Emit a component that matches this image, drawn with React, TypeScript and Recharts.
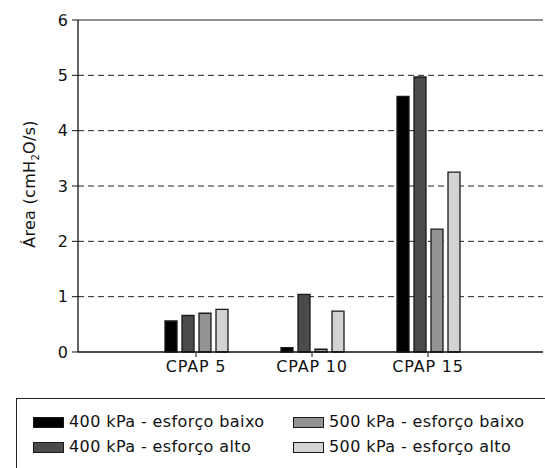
import React from "react";
import { BarChart, Bar, XAxis, YAxis, CartesianGrid, ReferenceLine } from "recharts";

const categories = ["CPAP 5", "CPAP 10", "CPAP 15"];
const seriesNames = [
  "400 kPa - esforço baixo",
  "400 kPa - esforço alto",
  "500 kPa - esforço baixo",
  "500 kPa - esforço alto",
];
const s400Baixo = [0.56, 0.08, 4.62];
const s400Alto = [0.66, 1.04, 4.97];
const s500Baixo = [0.7, 0.05, 2.22];
const s500Alto = [0.77, 0.74, 3.25];
const yTicks = [0, 1, 2, 3, 4, 5, 6];
const fills = ["#000000", "#4b4b4b", "#939393", "#d3d3d3"];

const keys = ["a", "b", "c", "d"];
const data = categories.map((c, i) => ({
  name: c,
  a: s400Baixo[i],
  b: s400Alto[i],
  c: s500Baixo[i],
  d: s500Alto[i],
}));

const FONT = "'DejaVu Sans', sans-serif";

const YLabel = (props: any) => {
  const vb = props.viewBox || {};
  const cx = 35;
  const cy = vb.y + vb.height / 2 - 2;
  return (
    <text
      x={cx}
      y={cy}
      transform={`rotate(-90, ${cx}, ${cy})`}
      textAnchor="middle"
      fontFamily={FONT}
      fontSize={16}
      letterSpacing={0.3}
      fill="#111"
    >
      Área (cmH
      <tspan fontSize={10} dy={4}>2</tspan>
      <tspan dy={-4}>O/s)</tspan>
    </text>
  );
};

export default function App() {
  return (
    <div style={{ position: "fixed", left: 0, top: 0, width: 545, height: 468, background: "#fff", overflow: "hidden" }}>
      <BarChart
        width={545}
        height={468}
        data={data}
        margin={{ top: 20, right: 2, bottom: 86, left: 0 }}
        barSize={12}
        barGap={5}
      >
        <CartesianGrid
          vertical={false}
          horizontalValues={[1, 2, 3, 4, 5]}
          stroke="#222"
          strokeDasharray="6 4"
        />
        <ReferenceLine y={6} stroke="#222" strokeWidth={1.2} />
        <XAxis
          dataKey="name"
          padding={{ left: 60, right: 57 }}
          tickSize={5}
          tickMargin={4}
          height={30}
          stroke="#111"
          tick={{ fill: "#111", fontSize: 16, fontFamily: FONT, letterSpacing: 0.8 }}
          axisLine={{ stroke: "#111", strokeWidth: 1.3 }}
          tickLine={{ stroke: "#111" }}
        />
        <YAxis
          domain={[0, 6]}
          ticks={yTicks}
          width={78}
          tickSize={6}
          tickMargin={4}
          stroke="#111"
          tick={{ fill: "#111", fontSize: 16, fontFamily: FONT }}
          axisLine={{ stroke: "#111", strokeWidth: 1.3 }}
          label={<YLabel />}
        />
        {keys.map((k, i) => (
          <Bar
            key={k}
            dataKey={k}
            name={seriesNames[i]}
            fill={fills[i]}
            stroke="#1a1a1a"
            strokeWidth={1.3}
            isAnimationActive={false}
          />
        ))}
      </BarChart>
      <div
        style={{
          position: "absolute",
          left: 16,
          top: 398,
          width: 560,
          height: 100,
          border: "1.3px solid #222",
          boxSizing: "border-box",
          fontFamily: FONT,
          fontSize: 16,
          letterSpacing: 0.4,
          color: "#111",
        }}
      >
        {seriesNames.map((n, i) => {
          const col = i === 0 || i === 1 ? 0 : 1;
          const row = i === 0 || i === 2 ? 0 : 1;
          return (
            <div
              key={n}
              style={{
                position: "absolute",
                left: (col === 0 ? 32 : 292) - 16,
                top: (row === 0 ? 23 : 48) - 10,
                height: 20,
                display: "flex",
                alignItems: "center",
                whiteSpace: "nowrap",
              }}
            >
              <span
                style={{
                  display: "inline-block",
                  width: 31,
                  height: 11,
                  background: fills[i],
                  border: "1.2px solid #1a1a1a",
                  boxSizing: "border-box",
                  marginRight: 5,
                }}
              />
              <span style={{ lineHeight: "20px" }}>{n}</span>
            </div>
          );
        })}
      </div>
    </div>
  );
}
